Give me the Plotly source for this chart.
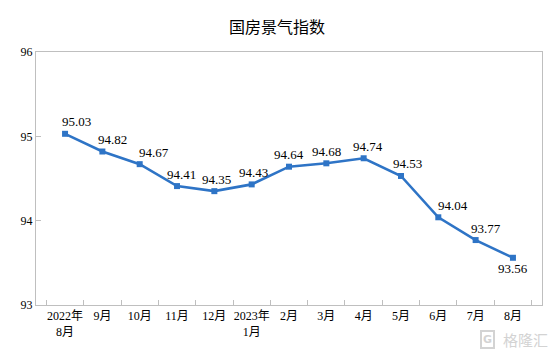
import plotly.graph_objects as go

categories = ["2022年<br>8月", "9月", "10月", "11月", "12月", "2023年<br>1月", "2月", "3月", "4月", "5月", "6月", "7月", "8月"]
values = [95.03, 94.82, 94.67, 94.41, 94.35, 94.43, 94.64, 94.68, 94.74, 94.53, 94.04, 93.77, 93.56]
y_ticks = [93, 94, 95, 96]
# label placement tweaks (pixels), as in the original chart
label_dx = [11, 10, 14, 4, 2, 2, 0, 0, 4, 7, 15, 10, 0]
label_dy = [12] * 12 + [-11]

BLUE = "#2E74C6"
fig = go.Figure()
fig.add_trace(go.Scatter(
    x=categories, y=values,
    mode="lines+markers",
    line=dict(color=BLUE, width=2.6),
    marker=dict(symbol="square", size=6, color=BLUE),
    cliponaxis=False,
    showlegend=False,
))
for c, v, dx, dy in zip(categories, values, label_dx, label_dy):
    fig.add_annotation(x=c, y=v, xref="x", yref="y", text=f"{v:.2f}", showarrow=False,
                       xanchor="center", yanchor="middle", xshift=dx, yshift=dy,
                       font=dict(family="Liberation Serif, Times New Roman, serif", size=13, color="#000000"))

fig.update_layout(
    width=548, height=352,
    margin=dict(l=28, r=14, t=44, b=55, autoexpand=False),
    paper_bgcolor="white", plot_bgcolor="white",
    title=dict(text="国房景气指数", x=0.491, xanchor="center", y=0.946, yanchor="middle",
               font=dict(family="Noto Sans CJK SC", size=16, color="#000000")),
    font=dict(family="Liberation Serif, Noto Sans CJK SC", size=12, color="#000000"),
)
fig.update_xaxes(
    type="category", tickson="boundaries", ticks="inside", ticklen=5, tickcolor="#BFBFBF",
    tickangle=0, automargin=False,
    showline=True, linecolor="#BFBFBF", linewidth=1, mirror=True, showgrid=False,
    tickfont=dict(family="Liberation Serif, Noto Sans CJK SC", size=12, color="#000000"),
)
fig.update_yaxes(
    range=[93, 96], tickvals=y_ticks, ticks="inside", ticklen=5, tickcolor="#BFBFBF",
    automargin=False,
    showline=True, linecolor="#BFBFBF", linewidth=1, mirror=True, showgrid=False, zeroline=False,
    tickfont=dict(family="Liberation Serif", size=12, color="#000000"),
)
# watermark
fig.add_annotation(text="<b>G</b>", xref="paper", yref="paper", x=0.892, y=-0.135,
                   xanchor="center", yanchor="middle", showarrow=False,
                   bordercolor="#D3D3D3", borderwidth=2, borderpad=1,
                   font=dict(family="DejaVu Sans", size=11, color="#D3D3D3"))
fig.add_annotation(text="格隆汇", xref="paper", yref="paper", x=1.016, y=-0.135,
                   xanchor="right", yanchor="middle", showarrow=False,
                   font=dict(family="Noto Sans CJK SC", size=15, color="#D3D3D3"))

fig.write_html("out.html")
